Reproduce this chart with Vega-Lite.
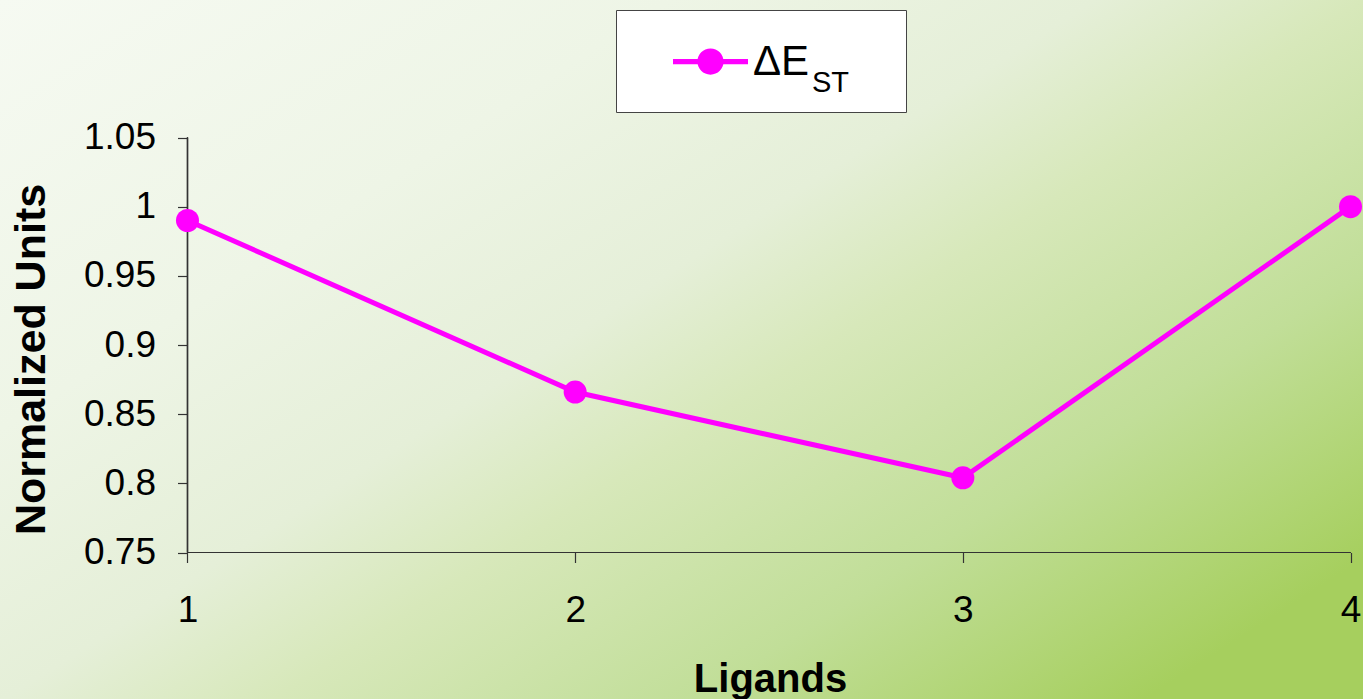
{
  "$schema": "https://vega.github.io/schema/vega-lite/v6.json",
  "autosize": "none",
  "width": 1363,
  "height": 699,
  "padding": 0,
  "background": "#e2eed0",
  "config": {
    "view": {"stroke": null, "fill": {"gradient": "linear", "x1": 0, "y1": 0, "x2": 1, "y2": 0.8, "stops": [
      {"offset": 0, "color": "#f6faf2"},
      {"offset": 0.3, "color": "#eef5e6"},
      {"offset": 0.49, "color": "#e5efd8"},
      {"offset": 0.61, "color": "#d7e8ba"},
      {"offset": 0.8, "color": "#c1de98"},
      {"offset": 1, "color": "#a6cf5e"}
    ]}},
    "font": "Liberation Sans",
    "axis": {
      "domain": false,
      "tickColor": "#333333",
      "tickWidth": 1.2,
      "labelFont": "Liberation Sans",
      "labelFontSize": 37,
      "labelColor": "#000000",
      "titleFont": "Liberation Sans",
      "titleFontSize": 40,
      "titleFontWeight": "bold",
      "titleColor": "#000000",
      "grid": false
    }
  },
  "data": {"values": [
    {"ligand": 1, "value": 0.99, "series": "ΔE"},
    {"ligand": 2, "value": 0.866, "series": "ΔE"},
    {"ligand": 3, "value": 0.804, "series": "ΔE"},
    {"ligand": 4, "value": 1.0, "series": "ΔE"}
  ]},
  "layer": [
    {
      "mark": {"type": "rule", "color": "#333333", "strokeWidth": 1.2},
      "encoding": {
        "x": {"datum": 1, "type": "quantitative"},
        "x2": {"datum": 4},
        "y": {"datum": 0.75, "type": "quantitative"}
      }
    },
    {
      "mark": {"type": "rule", "color": "#333333", "strokeWidth": 1.2},
      "encoding": {
        "x": {"datum": 1, "type": "quantitative"},
        "y": {"datum": 0.75, "type": "quantitative"},
        "y2": {"datum": 1.05}
      }
    },
    {
      "encoding": {
        "x": {"field": "ligand", "type": "quantitative",
          "scale": {"domain": [0.51634, 4.03224], "nice": false, "zero": false},
          "axis": {"values": [1, 2, 3, 4], "format": "d", "title": "Ligands", "offset": -146.5, "tickSize": 10, "labelPadding": 30, "titlePadding": 31, "titleX": 770, "labelFlush": false}},
        "y": {"field": "value", "type": "quantitative",
          "scale": {"domain": [0.6441, 1.1494], "nice": false, "zero": false},
          "axis": {"values": [0.75, 0.8, 0.85, 0.9, 0.95, 1, 1.05], "format": "~g", "title": "Normalized Units", "titleFontSize": 43, "offset": -187.5, "tickSize": 10, "labelPadding": 22, "titlePadding": 30, "titleY": 359, "labelFlush": false}},
        "color": {"field": "series", "type": "nominal",
          "scale": {"range": ["#ff00ff"]},
          "legend": {
            "orient": "none", "legendX": 616, "legendY": 10,
            "title": "ST\u2800\u2800",
            "titleOrient": "right", "titleAnchor": "end", "titleBaseline": "middle", "titleFontSize": 29, "titleFontWeight": "normal", "titleFont": "Liberation Sans", "titleColor": "#000000", "titlePadding": 3,
            "labelFont": "Liberation Sans", "labelFontSize": 42, "labelColor": "#000000", "labelOffset": 5,
            "symbolType": "M-1,-0.07L-0.3,-0.07L-0.3,0.07L-1,0.07Z M0.3,-0.07L1,-0.07L1,0.07L0.3,0.07Z M0.35,0A0.35,0.35 0 1,1 -0.35,0A0.35,0.35 0 1,1 0.35,0Z",
            "symbolSize": 5625, "symbolFillColor": "#ff00ff", "symbolStrokeWidth": 0, "symbolOffset": 43,
            "padding": 14, "fillColor": "#ffffff", "strokeColor": "#444444"
          }}
      },
      "layer": [
        {"mark": {"type": "line", "strokeWidth": 5}},
        {"mark": {"type": "point", "filled": true, "size": 530, "opacity": 1}}
      ]
    }
  ]
}
